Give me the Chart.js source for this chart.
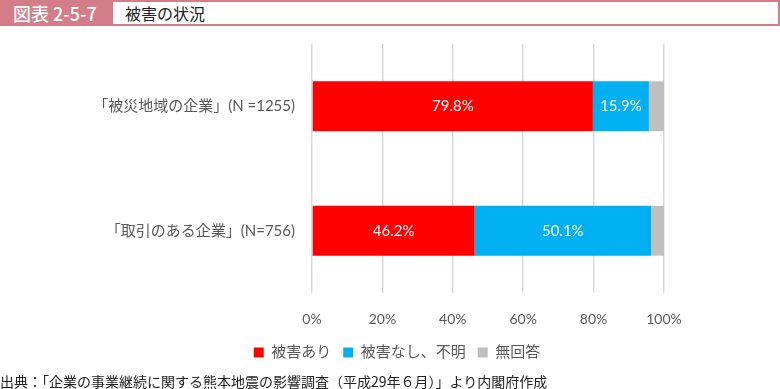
<!DOCTYPE html>
<html lang="ja">
<head>
<meta charset="utf-8">
<script src="https://cdn.jsdelivr.net/npm/chart.js@4"></script>
<style>
    body { margin: 0; background: #fff; font-family: "Noto Sans CJK JP", sans-serif; }
    #wrap { position: relative; width: 780px; height: 389px; overflow: hidden; }
    #header {
        position: absolute; left: 0; top: 0; width: 776px; height: 22px;
        border: 2px solid #D27D88; background: #fff;
    }
    #header .num {
        position: absolute; left: 0; top: 0; width: 111px; height: 22px;
        background: #D27D88; color: #fff; font-size: 18px; line-height: 22px;
        padding-left: 11px; box-sizing: border-box; font-weight: 500;
    }
    #header .ttl {
        position: absolute; left: 123px; top: 0; height: 22px;
        font-size: 16px; line-height: 22px; color: #222;
    }
    #source {
        position: absolute; left: 0; top: 371px; font-size: 14px; color: #222;
        white-space: nowrap;
    }
    #chartBox { position: absolute; left: 0; top: 0; width: 780px; height: 389px; }
</style>
</head>
<body>
<div id="wrap">
    <div id="chartBox"><canvas id="damage"></canvas></div>
    <div id="header"><div class="num">図表 2-5-7</div><div class="ttl">被害の状況</div></div>
    <div id="source">出典：「企業の事業継続に関する熊本地震の影響調査（平成29年６月）」より内閣府作成</div>
</div>
<script>
    // Categories and series (percent)
    const categories = ['「被災地域の企業」(N =1255)', '「取引のある企業」(N=756)'];
    const seriesNames = ['被害あり', '被害なし、不明', '無回答'];
    const damaged = [79.8, 46.2];
    const notDamaged = [15.9, 50.1];
    const noAnswer = [4.3, 3.7];
    const xTicks = [0, 20, 40, 60, 80, 100];

    const colors = ['#FF0000', '#00B0F0', '#BFBFBF'];
    const textFont = "Lato, 'Noto Sans CJK JP', sans-serif";

    // Draw value labels inside the red and blue segments
    const valueLabels = {
        id: 'valueLabels',
        afterDatasetsDraw(chart) {
            const ctx = chart.ctx;
            ctx.save();
            ctx.fillStyle = '#fff';
            ctx.font = '15px ' + textFont;
            ctx.textAlign = 'center';
            ctx.textBaseline = 'middle';
            [0, 1].forEach(di => {
                const meta = chart.getDatasetMeta(di);
                meta.data.forEach((bar, i) => {
                    const p = bar.getCenterPoint();
                    ctx.fillText(chart.data.datasets[di].data[i].toFixed(1) + '%', p.x, p.y);
                });
            });
            ctx.restore();
        }
    };

    // Legend is centred under the whole page, not under the padded box
    const legendShift = {
        id: 'legendShift',
        afterLayout(chart) {
            const lg = chart.legend;
            if (lg) {
                lg.left += 65;
                lg.right += 65;
            }
        }
    };

    const chartconfig = {
        type: 'bar',
        data: {
            labels: categories,
            datasets: [
                { label: seriesNames[0], data: damaged, backgroundColor: colors[0] },
                { label: seriesNames[1], data: notDamaged, backgroundColor: colors[1] },
                { label: seriesNames[2], data: noAnswer, backgroundColor: colors[2] }
            ]
        },
        options: {
            indexAxis: 'y',
            responsive: true,
            maintainAspectRatio: false,
            animation: false,
            layout: { padding: { top: 44, left: 0, right: 116, bottom: 19 } },
            datasets: {
                bar: { categoryPercentage: 0.8, barPercentage: 0.5, borderWidth: 0 }
            },
            scales: {
                x: {
                    stacked: true,
                    min: 0,
                    max: 100,
                    afterBuildTicks: s => { s.ticks = xTicks.map(v => ({ value: v })); },
                    afterFit: s => { s.height = 40; },
                    grid: { color: '#D9D9D9', lineWidth: 1.5, drawTicks: false },
                    border: { display: false },
                    ticks: {
                        padding: 18,
                        color: '#595959',
                        font: { size: 14, family: textFont },
                        callback: v => v + '%'
                    }
                },
                y: {
                    stacked: true,
                    afterFit: s => { s.width = 312; },
                    grid: { display: false, drawTicks: false },
                    border: { display: false },
                    ticks: {
                        padding: 17,
                        color: '#595959',
                        font: { size: 15, family: textFont }
                    }
                }
            },
            plugins: {
                legend: {
                    display: true,
                    position: 'bottom',
                    labels: {
                        boxWidth: 10,
                        boxHeight: 10,
                        padding: 12,
                        color: '#595959',
                        font: { size: 15, family: textFont }
                    }
                },
                tooltip: { enabled: false }
            }
        },
        plugins: [valueLabels, legendShift]
    };

    const canvas = document.getElementById('damage');
    if (canvas) {
        new Chart(canvas, chartconfig);
    } else {
        console.error('Canvas element not found');
    }
</script>
</body>
</html>
